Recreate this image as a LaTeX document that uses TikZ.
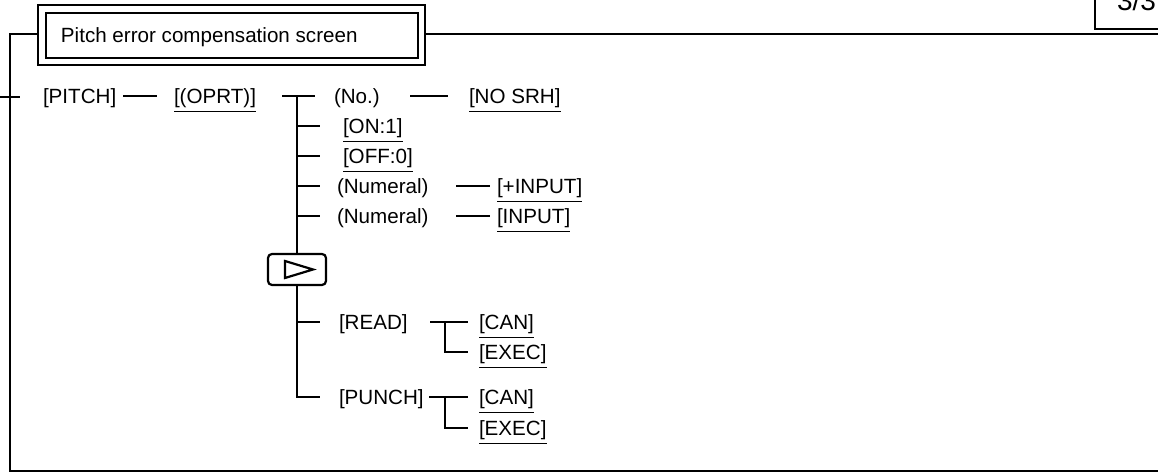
\documentclass[tikz,border=0pt]{standalone}
\usepackage{fontspec}
\setmainfont{Liberation Sans}
\begin{document}
\begin{tikzpicture}[x={(0.5pt,0)},y={(0,-0.5pt)},line width=1pt,
  lbl/.style={font=\fontsize{10.3pt}{12pt}\selectfont, inner sep=0pt, anchor=base west},
  conn/.style={line width=1pt},
  softkey/.style={draw, line width=1.1pt, rounded corners=2pt, minimum width=29pt, minimum height=15.5pt, inner sep=0pt}]
\useasboundingbox (0,0) rectangle (1158,474);
\clip (0,0) rectangle (1158,474);
% frame
\coordinate (tick0) at (0,97);
\coordinate (tick1) at (20,97);
\coordinate (ftl) at (10,34);
\coordinate (fbl) at (10,471);
\coordinate (fbr) at (1162,471);
\coordinate (ftr) at (1162,34);
\draw[line width=1pt] (tick0) -- (tick1);
\draw[line width=1pt] (38,34) -- (ftl) -- (fbl) -- (fbr);
\draw[line width=1pt] (425,34) -- (ftr);
% title box
\draw[line width=1.3pt, fill=white] (38,5) rectangle (425,65);
\draw[line width=0.6pt] (46,13) rectangle (418,58);
\node[lbl] (title) at (60,42.5) {Pitch error compensation screen};
% page box
\draw[line width=0.6pt] (1095,-10) rectangle (1175,29);
\node[lbl, font=\fontsize{14pt}{16pt}\selectfont] (page) at (1116,10.5) {3/3};
% nodes
\node[lbl] (pitch) at (42,104) {[PITCH]};
\node[lbl] (oprt) at (173,104) {\underline{[(OPRT)]}};
\node[lbl] (no) at (333,104) {(No.)};
\node[lbl] (nosrh) at (468,104) {\underline{[NO SRH]}};
\node[lbl] (on) at (342,134) {\underline{[ON:1]}};
\node[lbl] (off) at (342,164) {\underline{[OFF:0]}};
\node[lbl] (num1) at (336,194) {(Numeral)};
\node[lbl] (pinput) at (496,194) {\underline{[+INPUT]}};
\node[lbl] (num2) at (336,224) {(Numeral)};
\node[lbl] (input) at (496,224) {\underline{[INPUT]}};
\node[softkey] (next) at (297,269.5) {};
\draw[line width=1.1pt] (285,261) -- (285,278) -- (313,269.5) -- cycle;
\node[lbl] (read) at (338,330) {[READ]};
\node[lbl] (can1) at (478,330) {\underline{[CAN]}};
\node[lbl] (exec1) at (478,360) {\underline{[EXEC]}};
\node[lbl] (punch) at (338,405) {[PUNCH]};
\node[lbl] (can2) at (478,405) {\underline{[CAN]}};
\node[lbl] (exec2) at (478,436) {\underline{[EXEC]}};
% junction coordinates
\coordinate (a1) at (123,96); \coordinate (a2) at (157,96);
\coordinate (b1) at (282,96); \coordinate (b2) at (315,96);
\coordinate (v0) at (297,96);
\coordinate (c1) at (410,96); \coordinate (c2) at (448,96);
\coordinate (t2) at (297,126); \coordinate (e2) at (320,126);
\coordinate (t3) at (297,156); \coordinate (e3) at (320,156);
\coordinate (t4) at (297,186); \coordinate (e4) at (320,186);
\coordinate (t5) at (297,216); \coordinate (e5) at (320,216);
\coordinate (d1) at (456,186); \coordinate (d2) at (490,186);
\coordinate (f1) at (456,216); \coordinate (f2) at (490,216);
\coordinate (t6) at (297,322); \coordinate (e6) at (320,322);
\coordinate (t7) at (297,397); \coordinate (e7) at (320,397);
\coordinate (r1) at (430,322); \coordinate (rj) at (445,322); \coordinate (r2) at (468,322);
\coordinate (rk) at (445,352); \coordinate (r3) at (468,352);
\coordinate (p1) at (429,397); \coordinate (pj) at (445,397); \coordinate (p2) at (468,397);
\coordinate (pk) at (445,428); \coordinate (p3) at (468,428);
% connectors
\draw[conn] (a1) -- (a2);
\draw[conn] (b1) -- (b2);
\draw[conn] (v0) -- (next.north);
\draw[conn] (c1) -- (c2);
\draw[conn] (t2) -- (e2);
\draw[conn] (t3) -- (e3);
\draw[conn] (t4) -- (e4);
\draw[conn] (t5) -- (e5);
\draw[conn] (d1) -- (d2);
\draw[conn] (f1) -- (f2);
\draw[conn] (next.south) -- (t7) -- (e7);
\draw[conn] (t6) -- (e6);
\draw[conn] (r1) -- (r2);
\draw[conn] (rj) -- (rk) -- (r3);
\draw[conn] (p1) -- (p2);
\draw[conn] (pj) -- (pk) -- (p3);
\end{tikzpicture}
\end{document}
